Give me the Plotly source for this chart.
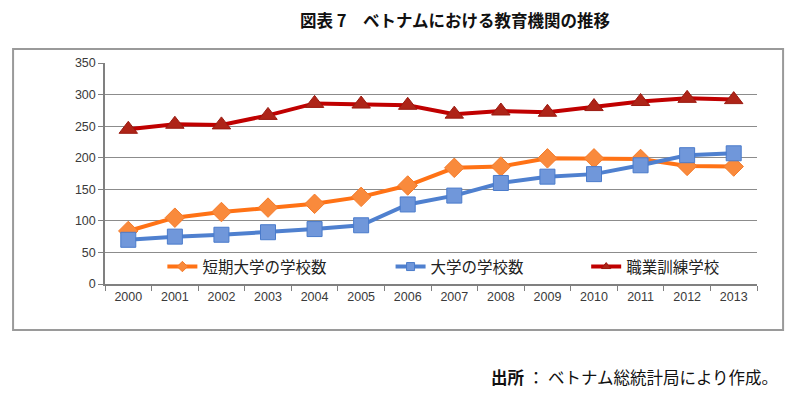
import plotly.graph_objects as go

years = [str(y) for y in range(2000, 2014)]
junior_college = [84, 105, 114, 121, 127, 138, 156, 184, 186, 199, 199, 198, 187, 186]
university = [70, 75, 78, 82, 87, 93, 126, 140, 160, 170, 174, 188, 204, 207]
vocational = [245, 253, 252, 267, 286, 285, 283, 269, 274, 272, 281, 289, 294, 292]

names = ["短期大学の学校数", "大学の学校数", "職業訓練学校"]
y_ticks = [0, 50, 100, 150, 200, 250, 300, 350]

FONT = "Liberation Sans, Noto Sans CJK JP, sans-serif"
CJK = "Noto Sans CJK JP, sans-serif"

fig = go.Figure()

series = [
    (junior_college, names[0], "#FF7215", "diamond", "#F98A3C", "#F57B2A", 15, "legend"),
    (university, names[1], "#4F80CF", "square", "#7097DA", "#4A7BCB", 15, "legend2"),
    (vocational, names[2], "#C00000", "triangle-up", "#AE2418", "#9A1A10", 16, "legend3"),
]

for vals, name, lc, sym, mfill, mline, msize, lg in series:
    fig.add_trace(go.Scatter(
        x=years, y=vals, mode="lines+markers", name=name, showlegend=False,
        line=dict(color=lc, width=4),
        marker=dict(symbol=sym, size=msize, color=mfill, line=dict(color=mline, width=1)),
    ))
    fig.add_trace(go.Scatter(
        x=[None], y=[None], mode="lines+markers", name=name, showlegend=True, legend=lg,
        line=dict(color=lc, width=4),
        marker=dict(symbol=sym, size=8, color=mfill, line=dict(color=mline, width=1)),
    ))

leg_common = dict(orientation="h", yanchor="middle", xanchor="left",
                  bgcolor="rgba(0,0,0,0)", font=dict(family=CJK, size=15.5, color="#222"))
fig.update_layout(
    legend=dict(x=0.088, y=0.077, **leg_common),
    legend2=dict(x=0.438, y=0.077, **leg_common),
    legend3=dict(x=0.738, y=0.077, **leg_common),
)

fig.update_xaxes(
    type="category", tickson="boundaries", ticks="outside", ticklen=5,
    tickcolor="#808080", showline=True, linecolor="#808080", linewidth=1.5,
    showgrid=False, tickfont=dict(family=FONT, size=12.5, color="#3a3a3a"),
    range=[-0.5, 13.5],
)
fig.update_yaxes(
    range=[0, 350], tickvals=y_ticks, ticks="outside", ticklen=5,
    tickcolor="#808080", showline=True, linecolor="#808080", linewidth=1.5,
    showgrid=True, gridcolor="#8C8C8C", gridwidth=1.3, zeroline=False,
    tickfont=dict(family=FONT, size=12.5, color="#3a3a3a"),
)

fig.update_layout(
    width=800, height=396,
    margin=dict(l=97, r=51, t=55, b=120),
    paper_bgcolor="white", plot_bgcolor="white",
    shapes=[dict(type="rect", xref="paper", yref="paper",
                 x0=-0.141, x1=1.040, y0=-0.208, y1=1.063,
                 line=dict(color="#9A9A9A", width=2), layer="below")],
    annotations=[
        dict(text="<b>図表 7　ベトナムにおける教育機関の推移</b>", xref="paper", yref="paper",
             x=0.537, y=1.193, xanchor="center", yanchor="middle", showarrow=False,
             font=dict(family=CJK, size=16.5, color="#111")),
        dict(text="<b>出所</b> ： ベトナム総統計局により作成。", xref="paper", yref="paper",
             x=1.036, y=-0.421, xanchor="right", yanchor="middle", showarrow=False,
             font=dict(family=CJK, size=16.5, color="#111")),
    ],
)

fig.write_html("out.html")
